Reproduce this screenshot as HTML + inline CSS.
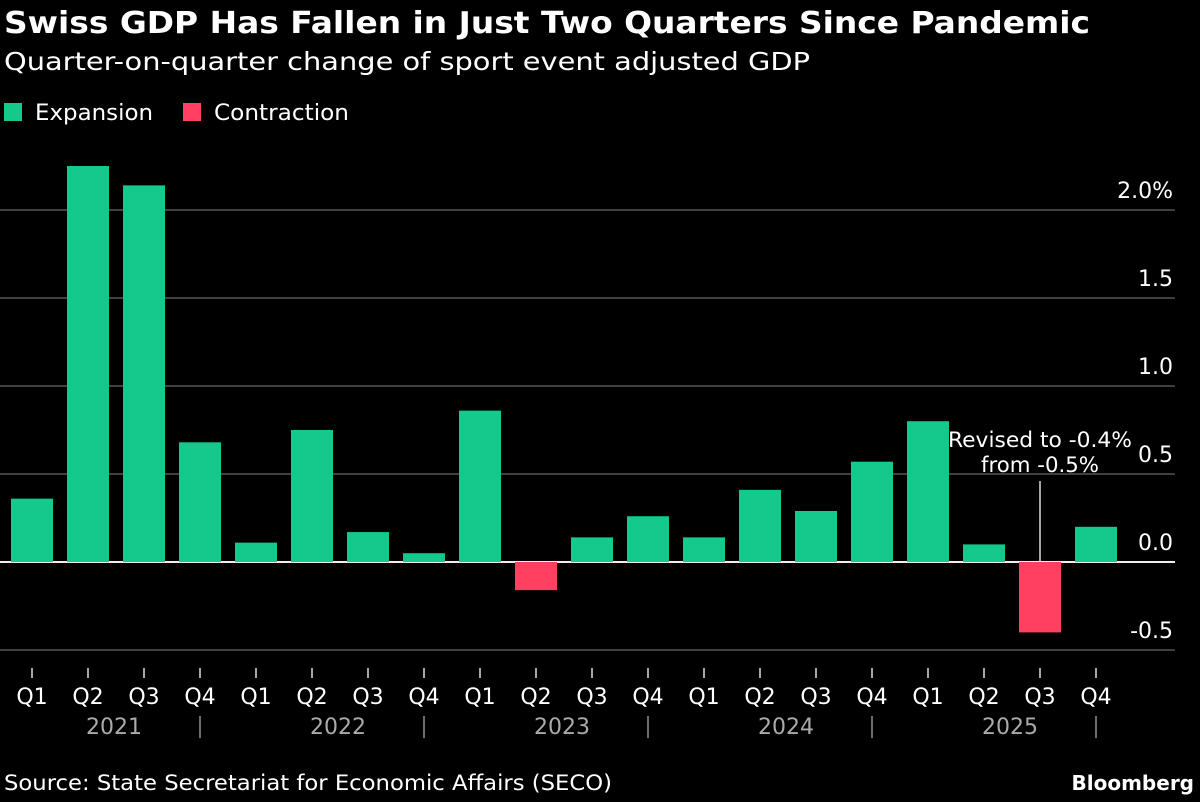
<!DOCTYPE html>
<html><head><meta charset="utf-8"><style>
body{margin:0;background:#000;width:1200px;height:802px;overflow:hidden;font-family:"DejaVu Sans","Liberation Sans",sans-serif;color:#fff}
svg{position:absolute;left:0;top:0;font-family:"DejaVu Sans","Liberation Sans",sans-serif}
</style></head><body>
<svg width="1200" height="802">
<text x="4" y="33" font-size="30" font-weight="bold" fill="#fff" textLength="1086" lengthAdjust="spacingAndGlyphs">Swiss GDP Has Fallen in Just Two Quarters Since Pandemic</text>
<text x="4" y="70" font-size="25" fill="#fff" textLength="806" lengthAdjust="spacingAndGlyphs">Quarter-on-quarter change of sport event adjusted GDP</text>
<g>
<rect x="4" y="103" width="18" height="18" fill="#14c98c"/>
<text x="35" y="120" font-size="22" fill="#fff" textLength="118" lengthAdjust="spacingAndGlyphs">Expansion</text>
<rect x="183" y="103" width="18" height="18" fill="#ff4060"/>
<text x="214" y="120" font-size="22" fill="#fff" textLength="135" lengthAdjust="spacingAndGlyphs">Contraction</text>
</g>
<g id="grid"></g><g id="bars"></g><g id="xaxis"></g>
<line x1="1040" y1="481" x2="1040" y2="562" stroke="#ddd" stroke-width="1.5"/>
<text x="1040" y="447" font-size="21" fill="#fff" text-anchor="middle" textLength="184" lengthAdjust="spacingAndGlyphs">Revised to -0.4%</text>
<text x="1040" y="472" font-size="21" fill="#fff" text-anchor="middle" textLength="118" lengthAdjust="spacingAndGlyphs">from -0.5%</text>
<text x="4" y="790" font-size="21" fill="#fff" textLength="608" lengthAdjust="spacingAndGlyphs">Source: State Secretariat for Economic Affairs (SECO)</text>
<text x="1194" y="790" font-size="20" font-weight="bold" fill="#fff" text-anchor="end">Bloomberg</text>
</svg>
<script>
const quarters=["Q1","Q2","Q3","Q4","Q1","Q2","Q3","Q4","Q1","Q2","Q3","Q4","Q1","Q2","Q3","Q4","Q1","Q2","Q3","Q4"];
const years=["2021","2022","2023","2024","2025"];
const values=[0.36,2.25,2.14,0.68,0.11,0.75,0.17,0.05,0.86,-0.16,0.14,0.26,0.14,0.41,0.29,0.57,0.80,0.10,-0.40,0.20];
const yTicks=[-0.5,0,0.5,1.0,1.5,2.0];
const yTickLabels=["-0.5","0.0","0.5","1.0","1.5","2.0%"];
const NS="http://www.w3.org/2000/svg";
const y=v=>562-v*176;
const xc=i=>32+i*56;
function mk(t,a,p){const e=document.createElementNS(NS,t);for(const k in a)e.setAttribute(k,a[k]);p.appendChild(e);return e;}
const grid=document.getElementById('grid'),bars=document.getElementById('bars'),xa=document.getElementById('xaxis');
yTicks.forEach((v,i)=>{
 const l=mk('line',{x1:0,x2:1175,y1:y(v),y2:y(v),stroke:v===0?'#eee':'#666','stroke-width':v===0?2:1.3},grid);
 
 
 const t=mk('text',{x:1173,y:y(v)-12,'font-size':22,fill:'#fff','text-anchor':'end'},grid);
 t.textContent=yTickLabels[i];
 
 
});
values.forEach((v,i)=>{
 const r=mk('rect',{x:xc(i)-21,width:42,y:Math.min(y(v),y(0)),height:Math.abs(y(v)-y(0)),fill:v>=0?'#14c98c':'#ff4060'},bars);
 
 
 const tk=mk('line',{x1:xc(i),x2:xc(i),y1:668,y2:678,stroke:'#ddd','stroke-width':1.5},xa);
 
 
 const t=mk('text',{x:xc(i),y:704,'font-size':22,fill:'#fff','text-anchor':'middle'},xa);
 t.textContent=quarters[i];
 
 
});
years.forEach((yr,j)=>{
 const t=mk('text',{x:xc(j*4)+82,y:734,'font-size':22,fill:'#aaa','text-anchor':'middle'},xa);
 t.textContent=yr;
 
 
 const s=mk('line',{x1:xc(j*4+3),x2:xc(j*4+3),y1:716,y2:738,stroke:'#aaa','stroke-width':1.3},xa);
 
 
});
</script>
</body></html>
